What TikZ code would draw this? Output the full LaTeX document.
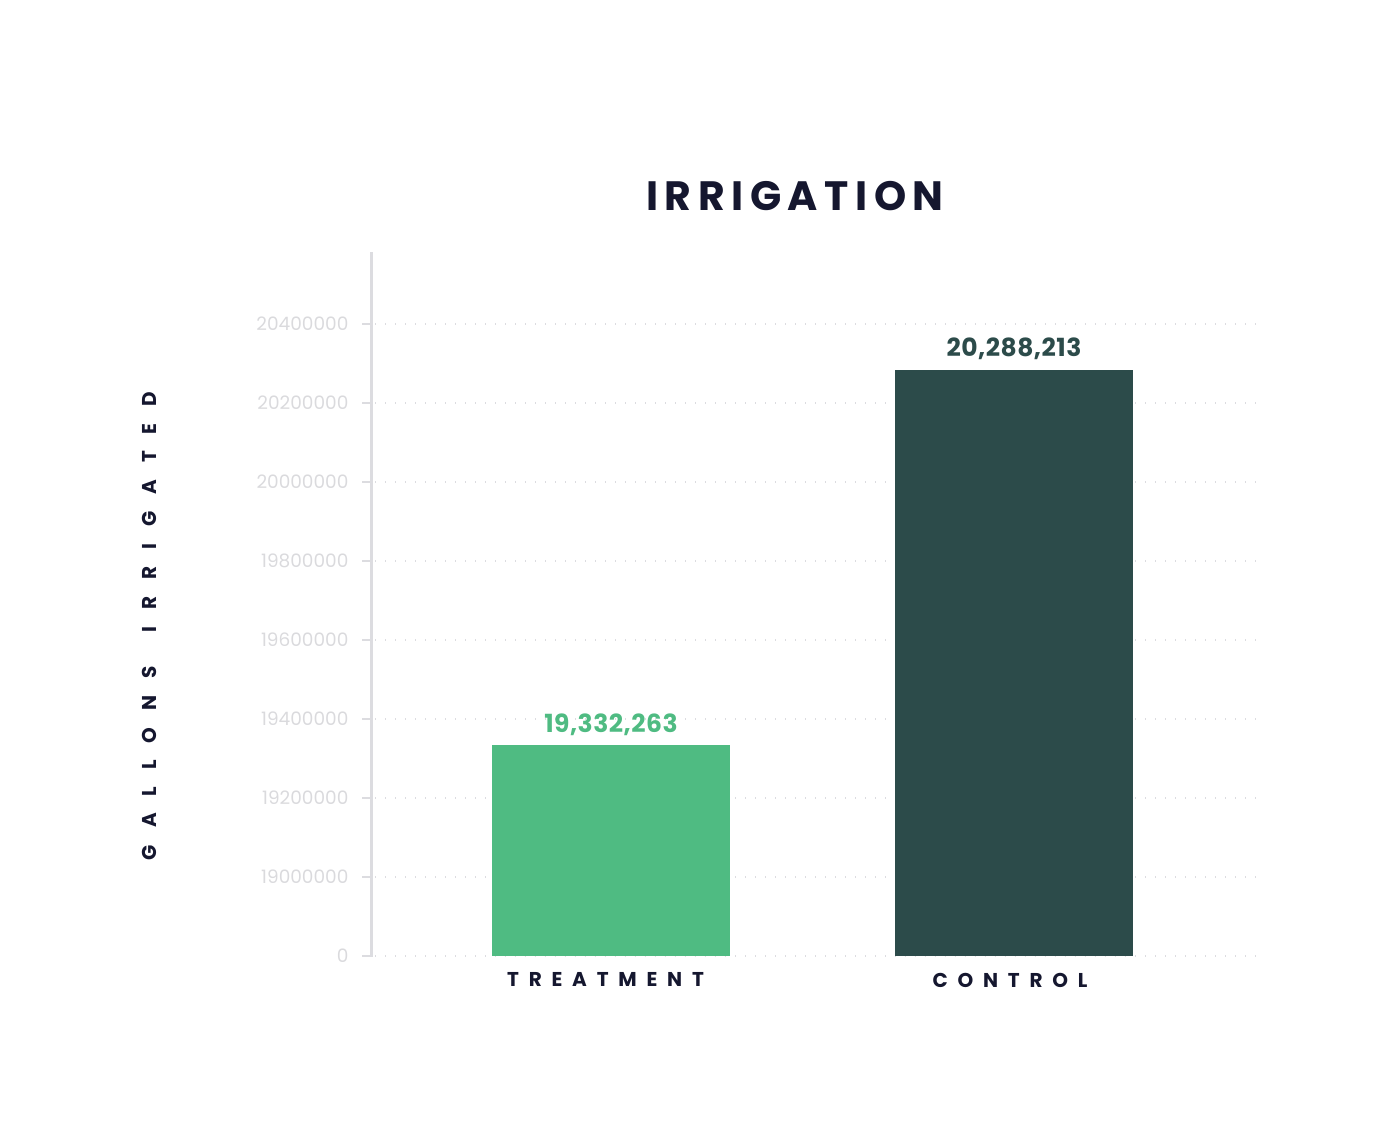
\documentclass[tikz,border=0pt]{standalone}
\usepackage{fontspec}
\setmainfont{Poppins}
\definecolor{titlenavy}{HTML}{15172F}
\definecolor{gridgray}{HTML}{DCDCE0}
\definecolor{tickgray}{HTML}{DADADD}
\definecolor{treatgreen}{HTML}{4FBB82}
\definecolor{ctrldark}{HTML}{2C4B4A}
\begin{document}
\begin{tikzpicture}[x=1pt,y=-1pt,
		titletext/.style={font=\fontsize{41}{41}\selectfont\bfseries\addfontfeature{LetterSpace=16}, text=titlenavy},
		axistext/.style={font=\fontsize{20}{20}\selectfont\bfseries\addfontfeature{LetterSpace=49}, text=titlenavy},
		ylabtext/.style={font=\fontsize{20}{20}\selectfont\bfseries\addfontfeature{LetterSpace=85}, text=titlenavy},
		ticktext/.style={font=\fontsize{18.5}{18.5}\selectfont, text=tickgray, anchor=east},
		valuetext/.style={font=\fontsize{25}{25}\selectfont\bfseries\addfontfeature{LetterSpace=2}},
		gridline/.style={gridgray, line width=1.3pt, dash pattern=on 1.3pt off 8.7pt}]
		\useasboundingbox (0,0) rectangle (1394,1125);
		% grid and ticks
		\foreach \ypos/\val in {324/20400000, 403/20200000, 482/20000000, 561/19800000, 640/19600000, 719/19400000, 798/19200000, 877/19000000, 956/0} {
			\draw[gridline] (375,\ypos) -- (1256,\ypos);
			\draw[gridgray, line width=1.3pt] (362,\ypos) -- (372,\ypos);
			\node[ticktext] at (352,\ypos) {\val};
		}
		\draw[gridgray, line width=3pt] (371,252) -- (371,957);
		% bars
		\fill[treatgreen] (492,956) rectangle (730,745);
		\fill[ctrldark] (895,956) rectangle (1133,370);
		\node[valuetext, text=treatgreen] (tval) at (611,725) {19,332,263};
		\node[valuetext, text=ctrldark] (cval) at (1014,349) {20,288,213};
		% labels
		\node[titletext] (title) at (795,196) {IRRIGATION};
		\node[axistext] (treat) at (605.5,979) {TREATMENT};
		\node[axistext] (ctrl) at (1010,980) {CONTROL};
		\node[ylabtext, rotate=90] (ylab) at (149,626) {GALLONS\hspace{12pt} IRRIGATED};
	\end{tikzpicture}
\end{document}
